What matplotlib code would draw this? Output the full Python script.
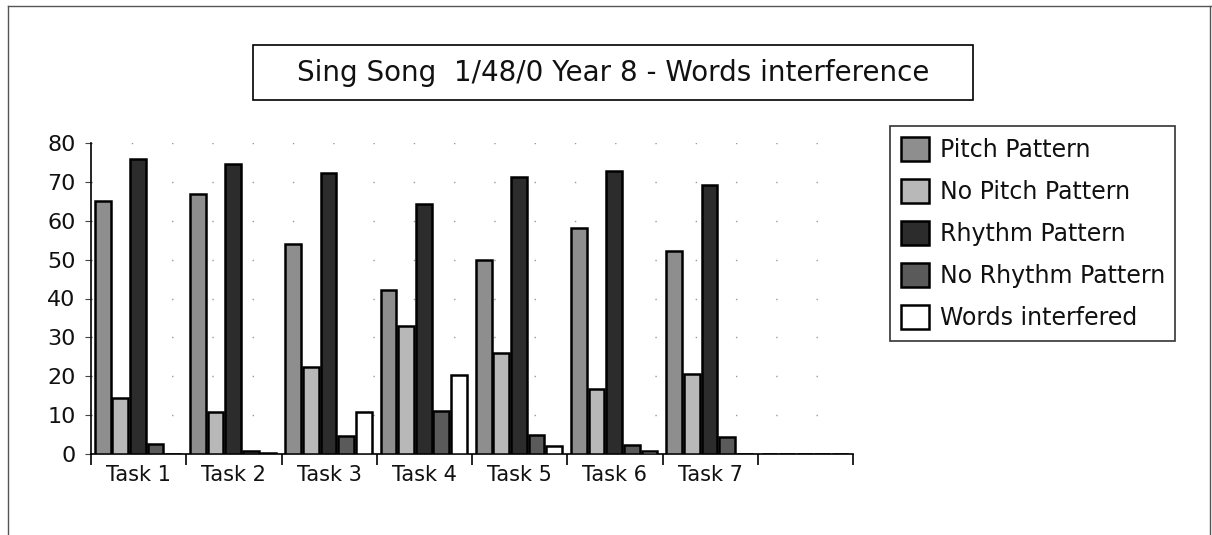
import numpy as np
import matplotlib
matplotlib.use('Agg')
import matplotlib.pyplot as plt
from matplotlib.lines import Line2D
from matplotlib.patches import Rectangle

tasks = ['Task 1', 'Task 2', 'Task 3', 'Task 4', 'Task 5', 'Task 6', 'Task 7', '']
series_names = ['Pitch Pattern', 'No Pitch Pattern', 'Rhythm Pattern', 'No Rhythm Pattern', 'Words interfered']
pitch = [65, 67, 54, 42.3, 50, 58.2, 52.2, 0]
no_pitch = [14.3, 10.9, 22.4, 32.9, 26, 16.6, 20.7, 0]
rhythm = [75.8, 74.5, 72.4, 64.4, 71.3, 72.8, 69.3, 0]
no_rhythm = [2.6, 0.8, 4.7, 11, 4.9, 2.3, 4.3, 0]
words = [0, 0.3, 10.9, 20.3, 2.1, 0.9, 0, 0]
colors = ['#8e8e8e', '#b8b8b8', '#2c2c2c', '#5a5a5a', 'white']

W, H = 1212, 535
fig = plt.figure(figsize=(W/100, H/100), dpi=100)
ax = fig.add_axes([91/W, 1 - 454/H, (853 - 91)/W, (454 - 143)/H])

x = np.arange(len(tasks))
width = 0.165
step = 0.185
for k, (vals, col, name) in enumerate(zip([pitch, no_pitch, rhythm, no_rhythm, words], colors, series_names)):
    ax.bar(x + 0.04 + k*step, vals, width=width, align='edge', color=col,
           edgecolor='black', linewidth=1.8, label=name, zorder=3)

ax.set_xlim(0, 8)
ax.set_ylim(0, 80)
ax.set_yticks(range(0, 90, 10))
ax.tick_params(axis='y', labelsize=16, length=4, width=0.8, pad=7, colors='#444444', labelcolor='#111111')
ax.set_xticks(range(0, 9))
ax.set_xticklabels([])
ax.set_xticks(x + 0.5, minor=True)
ax.set_xticklabels(tasks, minor=True, fontsize=15, color='#111111')
ax.tick_params(axis='x', which='major', length=8, width=1.2, direction='out')
ax.tick_params(axis='x', which='minor', length=0, pad=8)
ax.spines['top'].set_visible(False)
ax.spines['right'].set_visible(False)
ax.spines['left'].set_linewidth(1.2)
ax.spines['bottom'].set_linewidth(1.2)
ax.grid(axis='y', color='#999999', linestyle=(0, (1, 28)), linewidth=1, zorder=0)

# title in its own box
fig.add_artist(Rectangle((253/W, 1 - 100/H), (973 - 253)/W, 55/H, transform=fig.transFigure,
                         facecolor='white', edgecolor='black', linewidth=1.2))
fig.text(613/W, 1 - 73/H, 'Sing Song  1/48/0 Year 8 - Words interference', fontsize=20,
         ha='center', va='center', color='#111111')

leg = fig.legend(loc='upper left', bbox_to_anchor=(890/W, 1 - 126/H), fontsize=17,
                 frameon=True, fancybox=False, edgecolor='black', handlelength=1.2,
                 handleheight=1.2, handletextpad=0.45, labelspacing=0.72, borderpad=0.45,
                 borderaxespad=0)
leg.get_frame().set_linewidth(1.2)
for t in leg.get_texts():
    t.set_color('#111111')

# outer page frame
fig.add_artist(Line2D([8/W, 1211/W], [1 - 6/H, 1 - 6/H], transform=fig.transFigure, color='#555555', lw=1))
fig.add_artist(Line2D([8/W, 8/W], [0, 1 - 6/H], transform=fig.transFigure, color='#555555', lw=1))
fig.add_artist(Line2D([1210/W, 1210/W], [0, 1 - 6/H], transform=fig.transFigure, color='#555555', lw=1))

fig.savefig('out.png', dpi=100)
